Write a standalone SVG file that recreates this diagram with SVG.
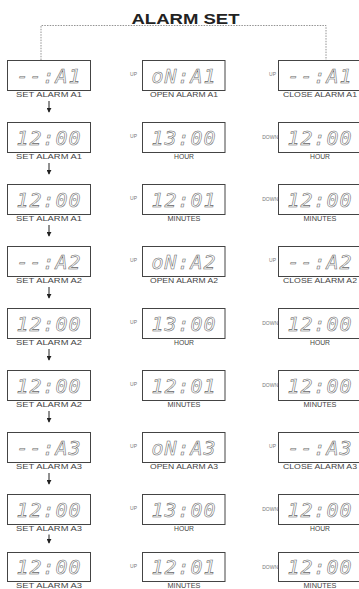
<svg xmlns="http://www.w3.org/2000/svg" width="359" height="589" viewBox="0 0 359 589">
<style>
.box{fill:#fff;stroke:#444;stroke-width:1}
.dg{font-family:"DejaVu Sans Mono",monospace;font-style:italic;font-size:20px;fill:#fff;stroke:#666;stroke-width:0.55;text-anchor:middle;letter-spacing:1px}
.lb{font-family:"Liberation Sans",Arial,sans-serif;font-size:6.5px;fill:#444;text-anchor:middle}
.ud{font-family:"Liberation Sans",Arial,sans-serif;font-size:5px;fill:#777;text-anchor:end}
.ttl{font-family:"Liberation Sans",Arial,sans-serif;font-size:15px;font-weight:bold;fill:#222;text-anchor:middle}
.ar{stroke:#222;stroke-width:1;fill:none;marker-end:url(#ah)}
.dash{stroke:#777;stroke-width:0.8;fill:none;stroke-dasharray:1.5 1.2}
</style>
<defs>
<marker id="ah" viewBox="0 0 6 6" refX="5" refY="3" markerWidth="5" markerHeight="5" markerUnits="userSpaceOnUse" orient="auto">
<path d="M0,0 L6,3 L0,6 Z" fill="#222"/>
</marker>
</defs>
<rect width="359" height="589" fill="#fff"/>
<g id="title"><text class="ttl" x="185.5" y="24" textLength="108" lengthAdjust="spacingAndGlyphs">ALARM SET</text></g>
<g id="connectors">
<path class="dash" d="M41,60 V25.5 H326 V60"/>
<path class="ar" d="M49,101 V112"/>
<path class="ar" d="M49,163 V174"/>
<path class="ar" d="M49,225 V236"/>
<path class="ar" d="M49,287 V298"/>
<path class="ar" d="M49,349 V360"/>
<path class="ar" d="M49,411 V422"/>
<path class="ar" d="M49,473 V484"/>
<path class="ar" d="M49,534.5 V543"/>
</g>
<!-- Left column -->
<g id="L1"><rect class="box" x="7.5" y="60.5" width="83" height="30"/><text class="dg" x="49" y="82.5">--:A1</text><text class="lb" x="49" y="97" textLength="66" lengthAdjust="spacingAndGlyphs">SET ALARM A1</text></g>
<g id="L2"><rect class="box" x="7.5" y="122.5" width="83" height="30"/><text class="dg" x="49" y="144.5">12:00</text><text class="lb" x="49" y="159" textLength="66" lengthAdjust="spacingAndGlyphs">SET ALARM A1</text></g>
<g id="L3"><rect class="box" x="7.5" y="184.5" width="83" height="30"/><text class="dg" x="49" y="206.5">12:00</text><text class="lb" x="49" y="221" textLength="66" lengthAdjust="spacingAndGlyphs">SET ALARM A1</text></g>
<g id="L4"><rect class="box" x="7.5" y="246.5" width="83" height="30"/><text class="dg" x="49" y="268.5">--:A2</text><text class="lb" x="49" y="283" textLength="66" lengthAdjust="spacingAndGlyphs">SET ALARM A2</text></g>
<g id="L5"><rect class="box" x="7.5" y="308.5" width="83" height="30"/><text class="dg" x="49" y="330.5">12:00</text><text class="lb" x="49" y="345" textLength="66" lengthAdjust="spacingAndGlyphs">SET ALARM A2</text></g>
<g id="L6"><rect class="box" x="7.5" y="370.5" width="83" height="30"/><text class="dg" x="49" y="392.5">12:00</text><text class="lb" x="49" y="407" textLength="66" lengthAdjust="spacingAndGlyphs">SET ALARM A2</text></g>
<g id="L7"><rect class="box" x="7.5" y="432.5" width="83" height="30"/><text class="dg" x="49" y="454.5">--:A3</text><text class="lb" x="49" y="469" textLength="66" lengthAdjust="spacingAndGlyphs">SET ALARM A3</text></g>
<g id="L8"><rect class="box" x="7.5" y="494.5" width="83" height="30"/><text class="dg" x="49" y="516.5">12:00</text><text class="lb" x="49" y="531" textLength="66" lengthAdjust="spacingAndGlyphs">SET ALARM A3</text></g>
<g id="L9"><rect class="box" x="7.5" y="552.5" width="83" height="29"/><text class="dg" x="49" y="574">12:00</text><text class="lb" x="49" y="588" textLength="66" lengthAdjust="spacingAndGlyphs">SET ALARM A3</text></g>
<!-- Middle column -->
<g id="M1"><text class="ud" x="137" y="76">UP</text><rect class="box" x="142.5" y="60.5" width="82.5" height="30"/><text class="dg" x="184" y="82.5">oN:A1</text><text class="lb" x="184" y="97" textLength="68" lengthAdjust="spacingAndGlyphs">OPEN ALARM A1</text></g>
<g id="M2"><text class="ud" x="137" y="138">UP</text><rect class="box" x="142.5" y="122.5" width="82.5" height="30"/><text class="dg" x="184" y="144.5">13:00</text><text class="lb" x="184" y="159" textLength="20" lengthAdjust="spacingAndGlyphs">HOUR</text></g>
<g id="M3"><text class="ud" x="137" y="200">UP</text><rect class="box" x="142.5" y="184.5" width="82.5" height="30"/><text class="dg" x="184" y="206.5">12:01</text><text class="lb" x="184" y="221" textLength="33" lengthAdjust="spacingAndGlyphs">MINUTES</text></g>
<g id="M4"><text class="ud" x="137" y="262">UP</text><rect class="box" x="142.5" y="246.5" width="82.5" height="30"/><text class="dg" x="184" y="268.5">oN:A2</text><text class="lb" x="184" y="283" textLength="68" lengthAdjust="spacingAndGlyphs">OPEN ALARM A2</text></g>
<g id="M5"><text class="ud" x="137" y="324">UP</text><rect class="box" x="142.5" y="308.5" width="82.5" height="30"/><text class="dg" x="184" y="330.5">13:00</text><text class="lb" x="184" y="345" textLength="20" lengthAdjust="spacingAndGlyphs">HOUR</text></g>
<g id="M6"><text class="ud" x="137" y="386">UP</text><rect class="box" x="142.5" y="370.5" width="82.5" height="30"/><text class="dg" x="184" y="392.5">12:01</text><text class="lb" x="184" y="407" textLength="33" lengthAdjust="spacingAndGlyphs">MINUTES</text></g>
<g id="M7"><text class="ud" x="137" y="448">UP</text><rect class="box" x="142.5" y="432.5" width="82.5" height="30"/><text class="dg" x="184" y="454.5">oN:A3</text><text class="lb" x="184" y="469" textLength="68" lengthAdjust="spacingAndGlyphs">OPEN ALARM A3</text></g>
<g id="M8"><text class="ud" x="137" y="510">UP</text><rect class="box" x="142.5" y="494.5" width="82.5" height="30"/><text class="dg" x="184" y="516.5">13:00</text><text class="lb" x="184" y="531" textLength="20" lengthAdjust="spacingAndGlyphs">HOUR</text></g>
<g id="M9"><text class="ud" x="137" y="568">UP</text><rect class="box" x="142.5" y="552.5" width="82.5" height="29"/><text class="dg" x="184" y="574">12:01</text><text class="lb" x="184" y="588" textLength="33" lengthAdjust="spacingAndGlyphs">MINUTES</text></g>
<!-- Right column -->
<g id="R1"><text class="ud" x="276" y="76">UP</text><rect class="box" x="278.5" y="60.5" width="83" height="30"/><text class="dg" x="320" y="82.5">--:A1</text><text class="lb" x="320" y="97" textLength="74" lengthAdjust="spacingAndGlyphs">CLOSE ALARM A1</text></g>
<g id="R2"><text class="ud" x="278" y="139">DOWN</text><rect class="box" x="278.5" y="122.5" width="83" height="30"/><text class="dg" x="320" y="144.5">12:00</text><text class="lb" x="320" y="159" textLength="20" lengthAdjust="spacingAndGlyphs">HOUR</text></g>
<g id="R3"><text class="ud" x="278" y="201">DOWN</text><rect class="box" x="278.5" y="184.5" width="83" height="30"/><text class="dg" x="320" y="206.5">12:00</text><text class="lb" x="320" y="221" textLength="33" lengthAdjust="spacingAndGlyphs">MINUTES</text></g>
<g id="R4"><text class="ud" x="276" y="262">UP</text><rect class="box" x="278.5" y="246.5" width="83" height="30"/><text class="dg" x="320" y="268.5">--:A2</text><text class="lb" x="320" y="283" textLength="74" lengthAdjust="spacingAndGlyphs">CLOSE ALARM A2</text></g>
<g id="R5"><text class="ud" x="278" y="325">DOWN</text><rect class="box" x="278.5" y="308.5" width="83" height="30"/><text class="dg" x="320" y="330.5">12:00</text><text class="lb" x="320" y="345" textLength="20" lengthAdjust="spacingAndGlyphs">HOUR</text></g>
<g id="R6"><text class="ud" x="278" y="387">DOWN</text><rect class="box" x="278.5" y="370.5" width="83" height="30"/><text class="dg" x="320" y="392.5">12:00</text><text class="lb" x="320" y="407" textLength="33" lengthAdjust="spacingAndGlyphs">MINUTES</text></g>
<g id="R7"><text class="ud" x="276" y="448">UP</text><rect class="box" x="278.5" y="432.5" width="83" height="30"/><text class="dg" x="320" y="454.5">--:A3</text><text class="lb" x="320" y="469" textLength="74" lengthAdjust="spacingAndGlyphs">CLOSE ALARM A3</text></g>
<g id="R8"><text class="ud" x="278" y="511">DOWN</text><rect class="box" x="278.5" y="494.5" width="83" height="30"/><text class="dg" x="320" y="516.5">12:00</text><text class="lb" x="320" y="531" textLength="20" lengthAdjust="spacingAndGlyphs">HOUR</text></g>
<g id="R9"><text class="ud" x="278" y="569">DOWN</text><rect class="box" x="278.5" y="552.5" width="83" height="29"/><text class="dg" x="320" y="574">12:00</text><text class="lb" x="320" y="588" textLength="33" lengthAdjust="spacingAndGlyphs">MINUTES</text></g>
</svg>
